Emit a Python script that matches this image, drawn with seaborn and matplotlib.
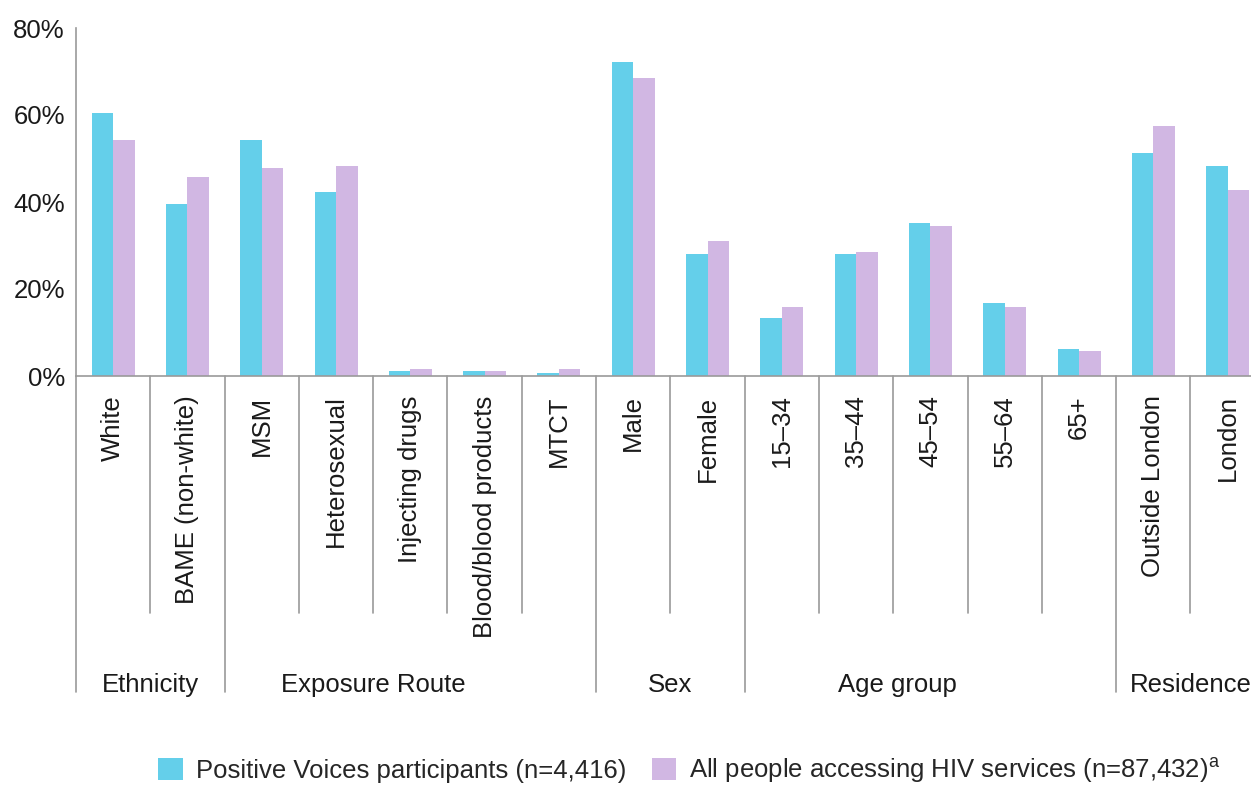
import pandas as pd
import matplotlib
matplotlib.use("Agg")
import matplotlib.pyplot as plt
import matplotlib.transforms as mtransforms
import seaborn as sns

# categories along the x axis
categories = ["White", "BAME (non-white)", "MSM", "Heterosexual", "Injecting drugs",
              "Blood/blood products", "MTCT", "Male", "Female", "15–34", "35–44",
              "45–54", "55–64", "65+", "Outside London", "London"]

# percentages
positive_voices = [60.4, 39.5, 54.3, 42.3, 1.2, 1.1, 0.7, 72.2, 28.0, 13.3, 28.0,
                   35.2, 16.8, 6.2, 51.3, 48.3]
all_hiv_services = [54.3, 45.7, 47.8, 48.3, 1.6, 1.1, 1.6, 68.5, 31.0, 15.9, 28.5,
                    34.5, 15.9, 5.7, 57.5, 42.8]

series_names = ["Positive Voices participants (n=4,416)",
                r"All people accessing HIV services (n=87,432)$^\mathregular{a}$"]

# groups: name, first category index, last category index
group_names = ["Ethnicity", "Exposure Route", "Sex", "Age group", "Residence"]
group_first = [0, 2, 7, 9, 14]
group_last = [1, 6, 8, 13, 15]

yticks = [0, 20, 40, 60, 80]

df = pd.DataFrame({
    "category": categories * 2,
    "value": positive_voices + all_hiv_services,
    "series": [series_names[0]] * len(categories) + [series_names[1]] * len(categories),
})

CYAN = "#64CFEA"
PURPLE = "#D1B7E3"
LINE = "#9A9A9A"

sns.set_style("white")
plt.rcParams["font.family"] = ["Liberation Sans", "DejaVu Sans"]
plt.rcParams["font.size"] = 18.5
plt.rcParams["mathtext.fontset"] = "custom"
plt.rcParams["mathtext.rm"] = "Liberation Sans"

fig = plt.figure(figsize=(12.51, 7.85), dpi=100)
ax = fig.add_axes([76 / 1251, 1 - 376 / 785, 16 * 74.3 / 1251, 348 / 785])

sns.barplot(data=df, x="category", y="value", hue="series", order=categories,
            hue_order=series_names, palette=[CYAN, PURPLE], width=0.58, gap=0,
            saturation=1, linewidth=0, ax=ax)

handles, labels = ax.get_legend_handles_labels()
ax.get_legend().remove()

ax.set_xlim(-0.5, len(categories) - 0.5)
ax.set_ylim(0, 80)
ax.set_yticks(yticks)
ax.set_yticklabels([f"{t}%" for t in yticks])
ax.set_xlabel("")
ax.set_ylabel("")
ax.tick_params(axis="y", length=5, width=1, color=LINE, pad=3, labelcolor="#1a1a1a")
ax.tick_params(axis="x", length=0, pad=14, labelcolor="#1a1a1a")
plt.setp(ax.get_xticklabels(), rotation=90, va="top", ha="center")

sns.despine(ax=ax, top=True, right=True)
for side in ["left", "bottom"]:
    ax.spines[side].set_color(LINE)
    ax.spines[side].set_linewidth(1.2)

# divider lines under the axis
trans = mtransforms.blended_transform_factory(ax.transData, fig.transFigure)
y_top = 1 - 376 / 785
y_inner = 1 - 613 / 785
y_group = 1 - 692 / 785
group_edges = [f - 0.5 for f in group_first]
for i in range(len(categories) + 1):
    xb = i - 0.5
    yb = y_group if xb in group_edges or i == len(categories) else y_inner
    ax.plot([xb, xb], [y_top, yb], color=LINE, lw=1.2, transform=trans, clip_on=False)

# group labels
group_label_x = [0.5, 3.5, 7.5, 10.55, 14.5]
for name, gx in zip(group_names, group_label_x):
    ax.text(gx, 1 - 685 / 785, name, transform=trans, ha="center", va="center",
            color="#1a1a1a")

fig.legend(handles, labels, loc="center", bbox_to_anchor=(0.551, 1 - 770 / 785),
           ncol=2, frameon=False, handlelength=0.95, handleheight=0.95,
           handletextpad=0.5, columnspacing=1.0, borderaxespad=0, borderpad=0)

fig.savefig("out.png", dpi=100)
